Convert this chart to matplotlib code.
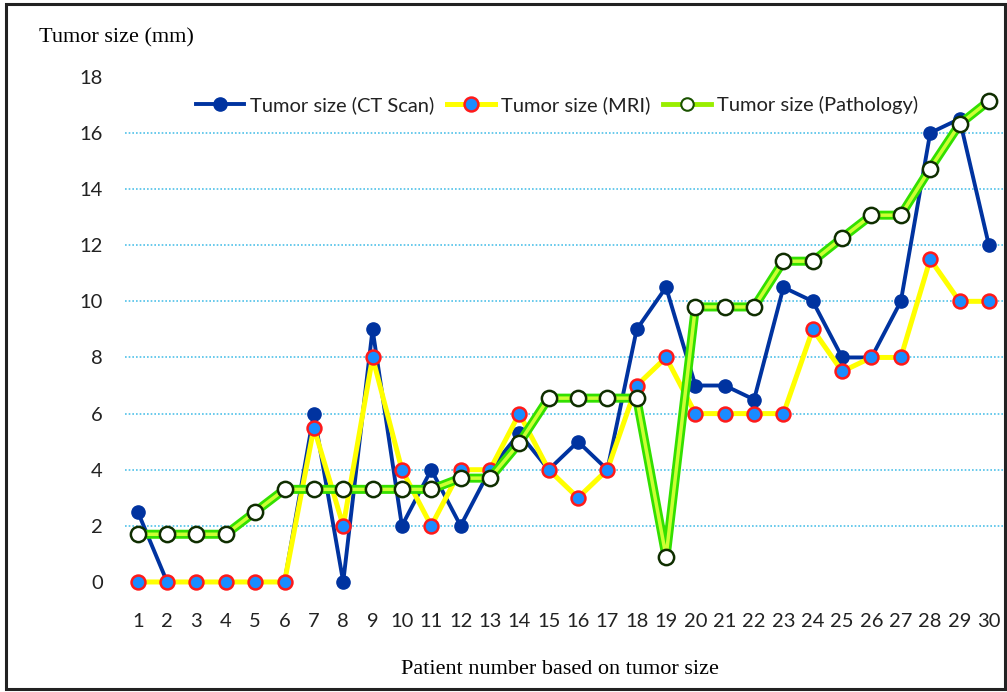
import matplotlib.pyplot as plt
from matplotlib.patches import Rectangle

patients = list(range(1, 31))
ct_scan = [2.5, 0, 0, 0, 0, 0, 6, 0, 9, 2, 4, 2, 4, 5.3, 4, 5, 4, 9, 10.5, 7,
           7, 6.5, 10.5, 10, 8, 8, 10, 16, 16.5, 12]
mri = [0, 0, 0, 0, 0, 0, 5.5, 2, 8, 4, 2, 4, 4, 6, 4, 3, 4, 7, 8, 6,
       6, 6, 6, 9, 7.5, 8, 8, 11.5, 10, 10]
pathology = [1.7, 1.7, 1.7, 1.7, 2.5, 3.3, 3.3, 3.3, 3.3, 3.3, 3.3, 3.7, 3.7, 4.95, 6.55,
             6.55, 6.55, 6.55, 0.9, 9.8, 9.8, 9.8, 11.43, 11.43, 12.26, 13.07, 13.07,
             14.73, 16.31, 17.14]
yticks = list(range(0, 20, 2))

tick_font = 'Lato'
serif = 'Liberation Serif'

fig = plt.figure(figsize=(10.07, 6.92), dpi=100)
ax = fig.add_axes([0.124, 0.159, 0.872, 0.73])

ax.plot(patients, ct_scan, color='#0033a0', lw=2.8, marker='o', ms=9.5,
        mfc='#0033a0', mec='#0033a0', clip_on=False, zorder=3,
        label='Tumor size (CT Scan)')
ax.plot(patients, mri, color='#ffff00', lw=3.6, marker='o', ms=10,
        mfc='#1a8cff', mec='#ff1a1a', mew=1.8, clip_on=False, zorder=4,
        label='Tumor size (MRI)')
# pathology line: bright green outer with yellow-green core
ax.plot(patients, pathology, color='#33e000', lw=6.5, clip_on=False, zorder=5)
ax.plot(patients, pathology, color='#ccff33', lw=2.5, marker='o', ms=11,
        mfc='white', mec='#0f2e00', mew=1.8, clip_on=False, zorder=6)
# legend handle for pathology
ax.plot([], [], color='#99ee00', lw=3.5, marker='o', ms=9,
        mfc='white', mec='#1a5200', mew=1.5, label='Tumor size (Pathology)')

ax.set_xlim(0.56, 30.48)
ax.set_ylim(0, 18)
ax.set_xticks(patients)
ax.set_yticks(yticks)
ax.tick_params(length=0, labelsize=14.5, labelcolor='#222222')
ax.tick_params(axis='x', pad=22)
ax.tick_params(axis='y', pad=16)
for lab in ax.get_xticklabels() + ax.get_yticklabels():
    lab.set_fontfamily(tick_font)

ax.yaxis.grid(True, color='#4fc1e9', ls=(0, (1, 1.2)), lw=1.2)
for v, gl in zip(yticks, ax.get_ygridlines()):
    if v in (0, 18):
        gl.set_visible(False)
ax.set_axisbelow(True)
for s in ax.spines.values():
    s.set_visible(False)

fig.text(39 / 1007, 1 - 38 / 692, 'Tumor size (mm)', family=serif, fontsize=16,
         va='center', ha='left')
fig.text(560 / 1007, 1 - 670 / 692, 'Patient number based on tumor size',
         family=serif, fontsize=16, va='center', ha='center')

leg = fig.legend(loc='center', bbox_to_anchor=(557 / 1007, 1 - 105 / 692), ncol=3,
                 frameon=False, prop={'family': tick_font, 'size': 14.5},
                 handlelength=2.4, handletextpad=0.3, columnspacing=0.6)
for t in leg.get_texts():
    t.set_color('#222222')

fig.patches.append(Rectangle((0.006, 0.004), 0.992, 0.99, transform=fig.transFigure,
                             fill=False, ec='#222222', lw=2.2))

fig.savefig('out.png', dpi=100)
